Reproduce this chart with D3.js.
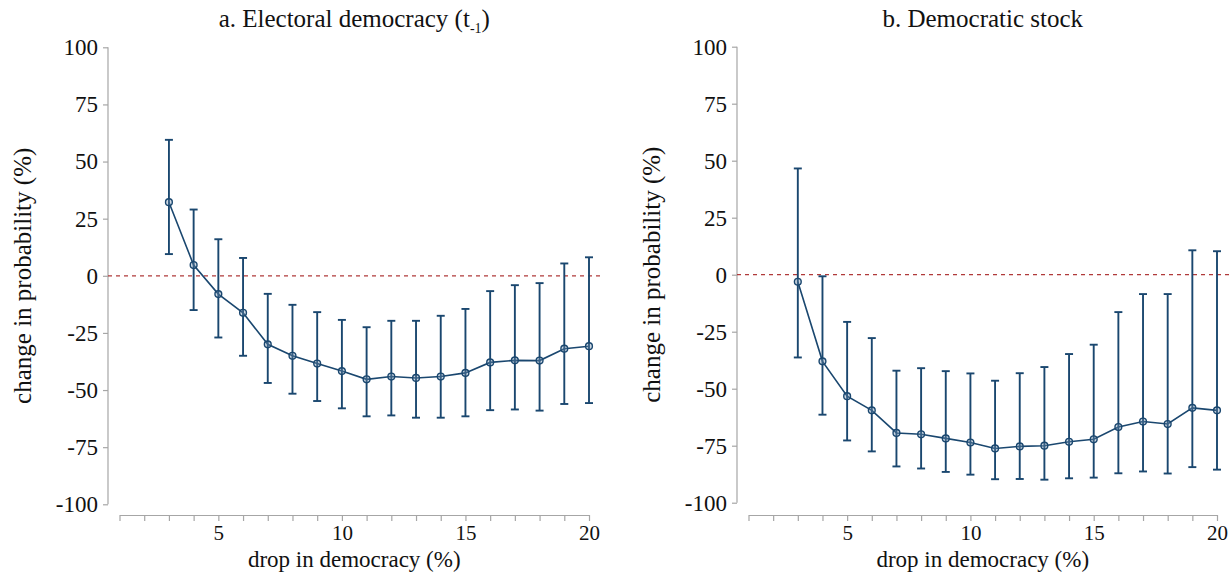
<!DOCTYPE html>
<html>
<head>
<meta charset="utf-8">
</head>
<body style="margin:0">
<script src="https://d3js.org/d3.v7.min.js"></script>
<style>
body { background: #fff; }
.axis path, .axis line { stroke: #a6a6a6; stroke-width: 1.2; }
svg text { font-family: 'Liberation Serif', 'Tinos', 'Times New Roman', serif; fill: #111; }
</style>
<script>
// drop in democracy (%)
var drops = [3, 4, 5, 6, 7, 8, 9, 10, 11, 12, 13, 14, 15, 16, 17, 18, 19, 20];

// panel a: electoral democracy (t-1)
var estA = [32.2, 4.7, -8, -16.2, -30, -35, -38.4, -41.7, -45.3, -44.1, -44.7, -44.1, -42.5, -37.9, -37, -37.1, -31.9, -30.8];
var hiA  = [59.5, 29, 16, 7.8, -7.9, -12.7, -15.9, -19.3, -22.5, -19.7, -19.7, -17.5, -14.5, -6.7, -4.1, -3.2, 5.4, 8.1];
var loA  = [9.5, -15, -27, -35, -46.9, -51.6, -54.8, -58, -61.5, -61.1, -62.1, -62.1, -61.5, -58.8, -58.5, -59, -56.1, -55.7];

// panel b: democratic stock
var estB = [-3.1, -38, -53.3, -59.5, -69.4, -70, -71.8, -73.6, -76.2, -75.3, -75, -73.3, -72.2, -66.8, -64.4, -65.5, -58.4, -59.5];
var hiB  = [46.6, -0.7, -20.7, -27.8, -42.1, -41, -42.3, -43.3, -46.5, -43.2, -40.5, -34.8, -30.7, -16.4, -8.5, -8.5, 10.7, 10.3];
var loB  = [-36.3, -61.4, -72.7, -77.5, -84.1, -85, -86.5, -87.7, -89.7, -89.6, -89.9, -89.3, -89, -87.1, -86.3, -87.2, -84.4, -85.5];

var yTicks = [100, 75, 50, 25, 0, -25, -50, -75, -100];
var xTicks = d3.range(1, 21);
var xLabels = [5, 10, 15, 20];

var navy = "#1a476f";
var serif = "'Liberation Serif', 'Tinos', 'Times New Roman', serif";

var svg = d3.select("body").append("svg")
    .attr("width", 1231)
    .attr("height", 575);

var panels = [
  {title: "a. Electoral democracy (t", sub: "-1", est: estA, hi: hiA, lo: loA,
   yx: 108, yRange: [504.3, 47.3], xRange: [119.5, 589]},
  {title: "b. Democratic stock", sub: null, est: estB, hi: hiB, lo: loB,
   yx: 737, yRange: [502.7, 46.7], xRange: [748.5, 1217]}
];

var xAxisY = 515;

panels.forEach(function(p) {
    var x = d3.scaleLinear().domain([1, 20]).range(p.xRange);
    var y = d3.scaleLinear().domain([-100, 100]).range(p.yRange);
    var g = svg.append("g");

    var data = drops.map(function(d, i) {
        return {x: d, est: p.est[i], hi: p.hi[i], lo: p.lo[i]};
    });

    // y axis
    var ya = g.append("g")
        .attr("class", "axis")
        .attr("transform", "translate(" + p.yx + ",0)")
        .call(d3.axisLeft(y).tickValues(yTicks).tickSize(5).tickPadding(5).tickSizeOuter(0)
            .tickFormat(function(d) { return String(d); }));
    ya.select(".domain").attr("d", "M0," + y(100) + "V" + y(-100));

    // x axis, a tick at every unit but labels only at 5, 10, 15, 20
    var xa = g.append("g")
        .attr("class", "axis")
        .attr("transform", "translate(0," + xAxisY + ")")
        .call(d3.axisBottom(x).tickValues(xTicks).tickSize(6).tickPadding(4).tickSizeOuter(0)
            .tickFormat(function(d) { return xLabels.indexOf(d) >= 0 ? String(d) : ""; }));

    g.selectAll(".axis")
        .attr("font-family", serif)
        .attr("font-size", 23);
    g.selectAll(".axis text")
        .style("font-family", serif)
        .style("font-size", "23px")
        .style("fill", "#111");
    xa.selectAll("text").style("font-size", "21px").attr("dy", "0.72em");

    // reference line at zero
    g.append("line")
        .attr("x1", p.yx).attr("x2", x(20) + 12)
        .attr("y1", y(0)).attr("y2", y(0))
        .style("stroke", "#b03a3a")
        .style("stroke-width", 1.3)
        .style("stroke-dasharray", "4,4");

    // error bars
    var bars = g.selectAll(".bar").data(data).enter().append("g").attr("class", "bar");
    bars.append("line")
        .attr("x1", function(d) { return x(d.x); }).attr("x2", function(d) { return x(d.x); })
        .attr("y1", function(d) { return y(d.hi); }).attr("y2", function(d) { return y(d.lo); });
    bars.append("line")
        .attr("x1", function(d) { return x(d.x) - 4; }).attr("x2", function(d) { return x(d.x) + 4; })
        .attr("y1", function(d) { return y(d.hi); }).attr("y2", function(d) { return y(d.hi); });
    bars.append("line")
        .attr("x1", function(d) { return x(d.x) - 4; }).attr("x2", function(d) { return x(d.x) + 4; })
        .attr("y1", function(d) { return y(d.lo); }).attr("y2", function(d) { return y(d.lo); });
    bars.selectAll("line").style("stroke", navy).style("stroke-width", 1.9);

    // connecting line
    g.append("path")
        .datum(data)
        .attr("d", d3.line().x(function(d) { return x(d.x); }).y(function(d) { return y(d.est); }))
        .style("fill", "none")
        .style("stroke", navy)
        .style("stroke-width", 1.6);

    g.selectAll(".pt").data(data).enter().append("circle")
        .attr("class", "pt")
        .attr("cx", function(d) { return x(d.x); })
        .attr("cy", function(d) { return y(d.est); })
        .attr("r", 3.4)
        .style("fill", "#6f8fb0")
        .style("fill-opacity", 0.35)
        .style("stroke", navy)
        .style("stroke-width", 1.4);

    // title
    var mid = (p.xRange[0] + p.xRange[1]) / 2;
    var t = g.append("text")
        .attr("x", mid).attr("y", 27)
        .attr("text-anchor", "middle")
        .style("font-family", serif)
        .style("font-size", "25px")
        .text(p.title);
    if (p.sub) {
        t.append("tspan").attr("dy", 6).style("font-size", "14px").text(p.sub);
        t.append("tspan").attr("dy", -6).text(")");
    }

    // axis titles
    g.append("text")
        .attr("transform", "translate(" + (p.yx - 77) + "," + y(0) + ") rotate(-90)")
        .attr("text-anchor", "middle")
        .style("font-family", serif)
        .style("font-size", "25px")
        .text("change in probability (%)");

    g.append("text")
        .attr("x", mid).attr("y", 567)
        .attr("text-anchor", "middle")
        .style("font-family", serif)
        .style("font-size", "23px")
        .text("drop in democracy (%)");
});
</script>
</body>
</html>
